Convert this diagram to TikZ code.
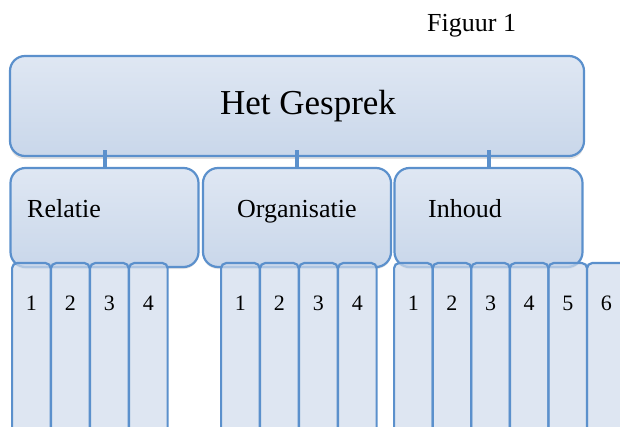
\documentclass[tikz,border=0pt]{standalone}
\usepackage{fontspec}
\setmainfont{Liberation Serif}
\usetikzlibrary{shadows}
\definecolor{boxline}{HTML}{5B90CC}
\definecolor{boxtop}{HTML}{DFE7F3}
\definecolor{boxbottom}{HTML}{C9D7EA}
\definecolor{colfill}{HTML}{D0DCEC}
\tikzset{
	topbox/.style={draw=boxline, line width=2.2pt, rounded corners=15pt, top color=boxtop, bottom color=boxbottom, inner sep=0pt, minimum width=574pt, minimum height=100pt, drop shadow={opacity=0.25, shadow xshift=0pt, shadow yshift=-3pt}},
	groupbox/.style={draw=boxline, line width=2.2pt, rounded corners=15pt, top color=boxtop, bottom color=boxbottom, inner sep=0pt, minimum width=188pt, minimum height=99pt, drop shadow={opacity=0.2, shadow xshift=0pt, shadow yshift=-2pt}},
	colbox/.style={draw=boxline, line width=2.2pt, rounded corners=5pt, fill=colfill, fill opacity=0.7, inner sep=0pt, minimum width=38.5pt, minimum height=172pt, anchor=north west},
	stub/.style={draw=boxline, line width=4pt},
	grouptext/.style={font=\fontsize{26}{26}\selectfont, anchor=base west, inner sep=0pt},
	collabel/.style={font=\fontsize{22}{22}\selectfont, anchor=base, inner sep=0pt}
}

\begin{document}
\begin{tikzpicture}[x=1pt, y=-1pt]
			%%%%% START %%%%%
			\useasboundingbox (0,0) rectangle (620,427);
			\clip (0,0) rectangle (620,427);
			
			\node[font=\fontsize{26}{26}\selectfont, anchor=base west, inner sep=0pt] (figuur) at (427,32) {Figuur 1};
			
			\node[topbox, label={[font=\fontsize{35}{35}\selectfont, xshift=11pt]center:Het Gesprek}] (gesprek) at (297,106) {};
			
			\node[groupbox] (relatie) at (104.5,217.5) {};
			\node[groupbox] (organisatie) at (297,217.5) {};
			\node[groupbox] (inhoud) at (488.5,217.5) {};
			
			\draw[stub] ([yshift=-2pt]relatie.north) -- ([yshift=7pt]relatie.north |- gesprek.south);
			\draw[stub] ([yshift=-2pt]organisatie.north) -- ([yshift=7pt]organisatie.north |- gesprek.south);
			\draw[stub] ([yshift=-2pt]inhoud.north) -- ([yshift=7pt]inhoud.north |- gesprek.south);
			
			\node[grouptext] (relatietekst) at (27,218) {Relatie};
			\node[grouptext] (organisatietekst) at (237,218) {Organisatie};
			\node[grouptext] (inhoudtekst) at (428,218) {Inhoud};
			
			% kolommen relatie
			\node[colbox] (rel1) at (11,262) {};
			\node[colbox] (rel2) at (50,262) {};
			\node[colbox] (rel3) at (89,262) {};
			\node[colbox] (rel4) at (128,262) {};
			\node[collabel] at ([yshift=-48pt]rel1.north) {1};
			\node[collabel] at ([yshift=-48pt]rel2.north) {2};
			\node[collabel] at ([yshift=-48pt]rel3.north) {3};
			\node[collabel] at ([yshift=-48pt]rel4.north) {4};
			
			% kolommen organisatie
			\node[colbox] (org1) at (220,262) {};
			\node[colbox] (org2) at (259,262) {};
			\node[colbox] (org3) at (298,262) {};
			\node[colbox] (org4) at (337,262) {};
			\node[collabel] at ([yshift=-48pt]org1.north) {1};
			\node[collabel] at ([yshift=-48pt]org2.north) {2};
			\node[collabel] at ([yshift=-48pt]org3.north) {3};
			\node[collabel] at ([yshift=-48pt]org4.north) {4};
			
			% kolommen inhoud
			\node[colbox] (inh1) at (393,262) {};
			\node[colbox] (inh2) at (431.6,262) {};
			\node[colbox] (inh3) at (470.2,262) {};
			\node[colbox] (inh4) at (508.8,262) {};
			\node[colbox] (inh5) at (547.4,262) {};
			\node[colbox] (inh6) at (586,262) {};
			\node[collabel] at ([yshift=-48pt]inh1.north) {1};
			\node[collabel] at ([yshift=-48pt]inh2.north) {2};
			\node[collabel] at ([yshift=-48pt]inh3.north) {3};
			\node[collabel] at ([yshift=-48pt]inh4.north) {4};
			\node[collabel] at ([yshift=-48pt]inh5.north) {5};
			\node[collabel] at ([yshift=-48pt]inh6.north) {6};
			
			%%%%% END %%%%%
\end{tikzpicture}
\end{document}
